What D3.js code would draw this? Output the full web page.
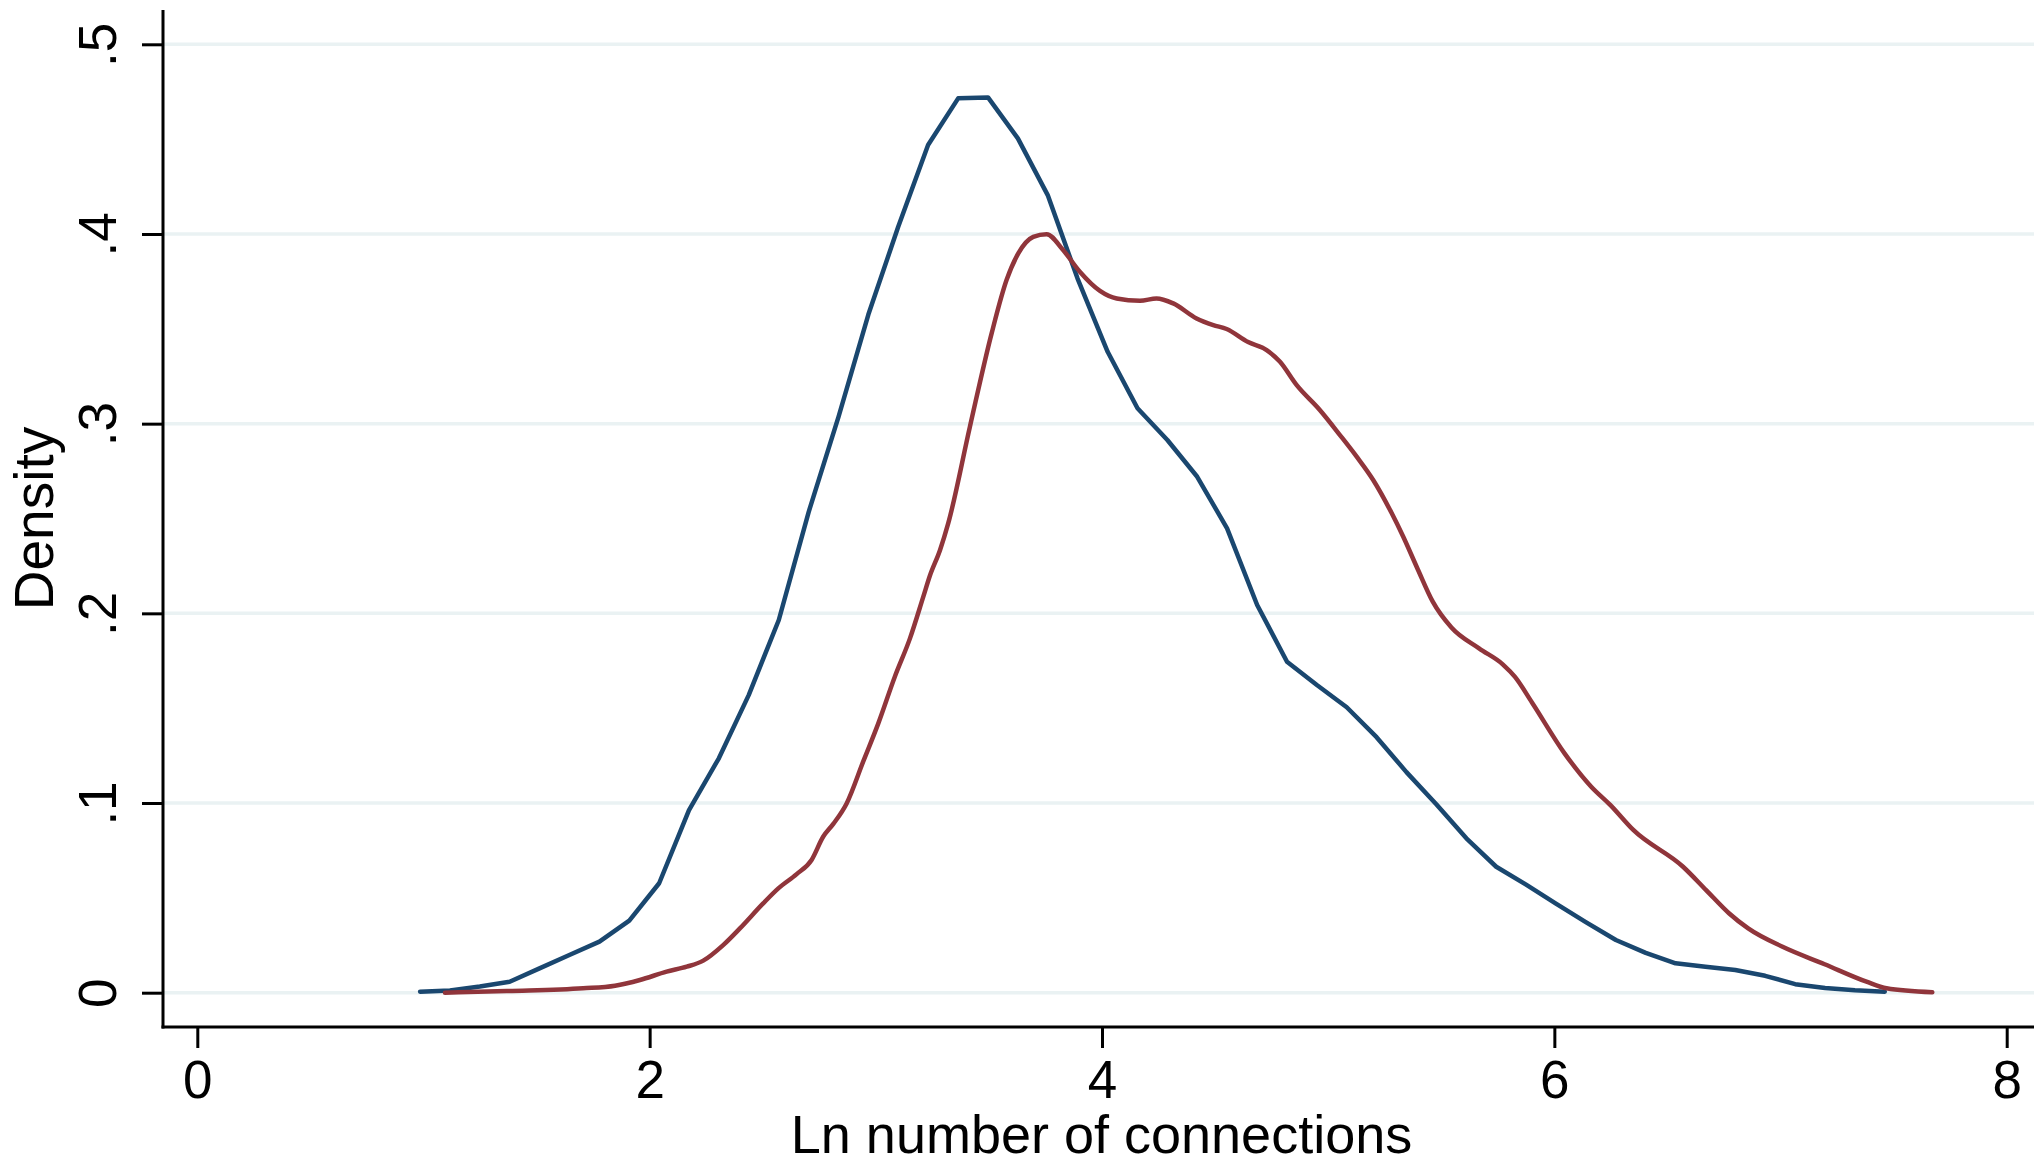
<!DOCTYPE html>
<html>
<head>
<meta charset="utf-8">
<script src="https://cdn.jsdelivr.net/npm/d3@7"></script>
<style>
  html, body { margin: 0; padding: 0; background: #fff; }
  svg { display: block; }
  text { font-family: "Liberation Sans", Arial, Helvetica, sans-serif; fill: #000; }
</style>
</head>
<body>
<svg id="chart" width="2034" height="1164"></svg>
<script>
// tick values
var xTicks = [0, 2, 4, 6, 8];
var yTicks = [0, 0.1, 0.2, 0.3, 0.4, 0.5];

// first density (blue)
var blueX = [0.985, 1.117, 1.249, 1.381, 1.513, 1.645, 1.778, 1.910, 2.042, 2.174,
             2.306, 2.438, 2.571, 2.703, 2.835, 2.967, 3.099, 3.231, 3.364, 3.496,
             3.628, 3.760, 3.892, 4.025, 4.157, 4.289, 4.421, 4.553, 4.686, 4.818,
             4.950, 5.082, 5.214, 5.346, 5.479, 5.611, 5.743, 5.875, 6.007, 6.139,
             6.272, 6.404, 6.536, 6.668, 6.800, 6.932, 7.065, 7.197, 7.329, 7.461];
var blueY = [0.0005, 0.0012, 0.0033, 0.0058, 0.0128, 0.0199, 0.0269, 0.0380, 0.0577, 0.0963,
             0.1236, 0.1569, 0.1965, 0.2534, 0.3036, 0.3575, 0.4038, 0.4469, 0.4715, 0.4720,
             0.4504, 0.4205, 0.3765, 0.3379, 0.3081, 0.2914, 0.2720, 0.2448, 0.2044, 0.1745,
             0.1622, 0.1505, 0.1347, 0.1163, 0.0992, 0.0814, 0.0664, 0.0570, 0.0470, 0.0372,
             0.0278, 0.0210, 0.0155, 0.0137, 0.0120, 0.0089, 0.0045, 0.0025, 0.0013, 0.0005];

// second density (red)
var redX = [1.095, 1.368, 1.706, 1.847, 1.957, 2.075, 2.164, 2.237, 2.325, 2.399,
            2.502, 2.569, 2.650, 2.716, 2.767, 2.812, 2.871, 2.944, 3.011, 3.084,
            3.151, 3.210, 3.239, 3.284, 3.320, 3.416, 3.512, 3.578, 3.630, 3.696,
            3.755, 3.828, 3.902, 3.991, 4.065, 4.168, 4.241, 4.315, 4.418, 4.492,
            4.551, 4.646, 4.728, 4.787, 4.860, 4.963, 5.052, 5.126, 5.199, 5.280,
            5.332, 5.397, 5.463, 5.545, 5.667, 5.773, 5.826, 5.901, 6.045, 6.163,
            6.248, 6.349, 6.569, 6.671, 6.772, 6.857, 7.009, 7.195, 7.380, 7.469, 7.671];
var redY = [0.0000, 0.0009, 0.0023, 0.0037, 0.0067, 0.0111, 0.0137, 0.0169, 0.0251, 0.0339,
            0.0471, 0.0550, 0.0625, 0.0700, 0.0822, 0.0890, 0.0998, 0.1218, 0.1420, 0.1666,
            0.1868, 0.2088, 0.2198, 0.2334, 0.2474, 0.2984, 0.3476, 0.3757, 0.3898, 0.3985,
            0.3999, 0.3915, 0.3801, 0.3700, 0.3660, 0.3648, 0.3660, 0.3634, 0.3555, 0.3520,
            0.3499, 0.3430, 0.3388, 0.3326, 0.3204, 0.3072, 0.2940, 0.2826, 0.2703, 0.2530,
            0.2404, 0.2230, 0.2060, 0.1925, 0.1815, 0.1730, 0.1665, 0.1530, 0.1262, 0.1086,
            0.0989, 0.0858, 0.0664, 0.0541, 0.0419, 0.0339, 0.0242, 0.0150, 0.0058, 0.0023, 0.0002];

function drawChart() {
    var svg = d3.select("#chart"),
        width = +svg.attr("width"),
        height = +svg.attr("height");

    // plot region edges
    var left = 163, right = width, top = 10, bottom = 1027;

    var x = d3.scaleLinear().domain([0, 8]).range([197.3, 2006.7]);
    var y = d3.scaleLinear().domain([0, 0.5]).range([992.7, 44.3]);

    // gridlines
    svg.append("g")
       .selectAll("line")
       .data(yTicks)
       .enter().append("line")
       .attr("x1", left)
       .attr("x2", right)
       .attr("y1", function(d) { return y(d); })
       .attr("y2", function(d) { return y(d); })
       .attr("stroke", "#eaf2f3")
       .attr("stroke-width", 3.5);

    var blue = blueX.map(function(v, i) { return [v, blueY[i]]; });
    var red = redX.map(function(v, i) { return [v, redY[i]]; });

    var lineLin = d3.line()
                    .x(function(d) { return x(d[0]); })
                    .y(function(d) { return y(d[1]); });
    var lineSmooth = d3.line()
                       .curve(d3.curveMonotoneX)
                       .x(function(d) { return x(d[0]); })
                       .y(function(d) { return y(d[1]); });

    svg.append("path")
       .datum(blue)
       .attr("d", lineLin)
       .attr("fill", "none")
       .attr("stroke", "#1a476f")
       .attr("stroke-width", 4.5)
       .attr("stroke-linejoin", "round")
       .attr("stroke-linecap", "round");

    svg.append("path")
       .datum(red)
       .attr("d", lineSmooth)
       .attr("fill", "none")
       .attr("stroke", "#90353b")
       .attr("stroke-width", 4.5)
       .attr("stroke-linejoin", "round")
       .attr("stroke-linecap", "round");

    // x axis
    var gx = svg.append("g")
                .attr("transform", "translate(0," + bottom + ")")
                .call(d3.axisBottom(x).tickValues(xTicks).tickSize(21).tickFormat(d3.format("d")));
    gx.select(".domain").remove();
    gx.selectAll(".tick line").attr("stroke", "#000").attr("stroke-width", 3);
    gx.selectAll(".tick text")
      .attr("y", 71)
      .attr("dy", 0)
      .style("font-size", "53px")
      .style("font-family", "'Liberation Sans', Arial, sans-serif");

    // y axis
    var gy = svg.append("g")
                .attr("transform", "translate(" + left + ",0)")
                .call(d3.axisLeft(y).tickValues(yTicks).tickSize(21)
                        .tickFormat(function(d) { return d === 0 ? "0" : d3.format(".1f")(d).replace(/^0/, ""); }));
    gy.select(".domain").remove();
    gy.selectAll(".tick line").attr("stroke", "#000").attr("stroke-width", 3);
    gy.selectAll(".tick text")
      .attr("x", 0)
      .attr("dy", 0)
      .attr("text-anchor", "middle")
      .attr("transform", "translate(-47,0) rotate(-90)")
      .style("font-size", "53px")
      .style("font-family", "'Liberation Sans', Arial, sans-serif");

    // axis lines
    svg.append("line")
       .attr("x1", left).attr("x2", left)
       .attr("y1", top).attr("y2", bottom + 1.5)
       .attr("stroke", "#000").attr("stroke-width", 3);
    svg.append("line")
       .attr("x1", left - 1.5).attr("x2", right)
       .attr("y1", bottom).attr("y2", bottom)
       .attr("stroke", "#000").attr("stroke-width", 3);

    // titles
    svg.append("text")
       .attr("x", (left + right) / 2 + 3)
       .attr("y", 1153)
       .attr("text-anchor", "middle")
       .style("font-size", "54px")
       .text("Ln number of connections");

    svg.append("text")
       .attr("transform", "translate(53," + (top + bottom) / 2 + ") rotate(-90)")
       .attr("text-anchor", "middle")
       .style("font-size", "55px")
       .text("Density");
}

drawChart();
</script>
</body>
</html>
